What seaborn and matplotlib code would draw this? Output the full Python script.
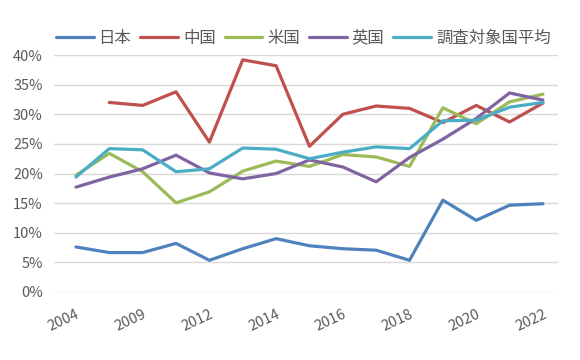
import matplotlib
matplotlib.use("Agg")
import matplotlib.pyplot as plt
import seaborn as sns
import pandas as pd
import numpy as np
from matplotlib.ticker import FuncFormatter

years = ["2004", "2007", "2009", "2011", "2012", "2013", "2014", "2015",
         "2016", "2017", "2018", "2019", "2020", "2021", "2022"]
tick_labels = ["2004", "2009", "2012", "2014", "2016", "2018", "2020", "2022"]
series_names = ["日本", "中国", "米国", "英国", "調査対象国平均"]

japan = [7.6, 6.65, 6.65, 8.2, 5.35, 7.3, 9.0, 7.8, 7.3, 7.05, 5.35, 15.5, 12.1, 14.65, 14.9]
china = [np.nan, 32.0, 31.5, 33.8, 25.3, 39.2, 38.2, 24.6, 30.0, 31.4, 31.0, 28.6, 31.5, 28.7, 31.9]
usa = [19.7, 23.4, 20.3, 15.05, 16.9, 20.4, 22.1, 21.2, 23.2, 22.8, 21.2, 31.1, 28.4, 32.1, 33.4]
uk = [17.7, 19.4, 20.8, 23.1, 20.1, 19.1, 20.0, 22.3, 21.1, 18.6, 22.7, 25.8, 29.3, 33.6, 32.4]
average = [19.4, 24.2, 24.0, 20.3, 20.8, 24.3, 24.1, 22.5, 23.6, 24.5, 24.2, 28.9, 29.0, 31.2, 32.0]

colors = ["#4F81BD", "#C0504D", "#9BBB59", "#8064A2", "#4BACC6"]

values = [japan, china, usa, uk, average]
rows = []
for name, vals in zip(series_names, values):
    for i, (y, v) in enumerate(zip(years, vals)):
        rows.append({"idx": i, "year": y, "series": name, "value": v})
df = pd.DataFrame(rows)

sns.set_theme(style="white")
plt.rcParams['font.family'] = ['Noto Sans CJK JP', 'DejaVu Sans']

fig = plt.figure(figsize=(5.8, 3.6), dpi=100)
ax = fig.add_axes([0.093, 0.189, 0.869, 0.658])

sns.lineplot(data=df, x="idx", y="value", hue="series", hue_order=series_names,
             palette=colors, linewidth=2.3, ax=ax, sort=False)

ax.set_ylim(0, 40)
ax.set_yticks(np.arange(0, 41, 5))
ax.yaxis.set_major_formatter(FuncFormatter(lambda v, p: f"{int(v)}%"))
ax.set_xlim(-0.66, len(years) - 1 + 0.45)
tick_pos = [years.index(t) for t in tick_labels]
ax.set_xticks(tick_pos)
ax.set_xticklabels(tick_labels, rotation=25, ha="right", rotation_mode="anchor")
ax.set_xlabel("")
ax.set_ylabel("")
ax.grid(axis="y", color="#D9D9D9", linewidth=1)
ax.grid(axis="x", visible=False)
for s in ax.spines.values():
    s.set_visible(False)
ax.tick_params(axis="both", colors="#595959", length=0)
ax.tick_params(axis="y", pad=8, labelsize=10.5)
ax.tick_params(axis="x", pad=11, labelsize=10.5)

handles, labels = ax.get_legend_handles_labels()
ax.legend(handles, labels, ncol=5, loc="center left",
          bbox_to_anchor=(56 / 580, 1 - 38 / 360), bbox_transform=fig.transFigure,
          frameon=False, fontsize=11.8, handlelength=2.3, handletextpad=0.3,
          columnspacing=0.55, labelcolor="#595959", borderaxespad=0, borderpad=0)

fig.savefig("out.png", dpi=100)
